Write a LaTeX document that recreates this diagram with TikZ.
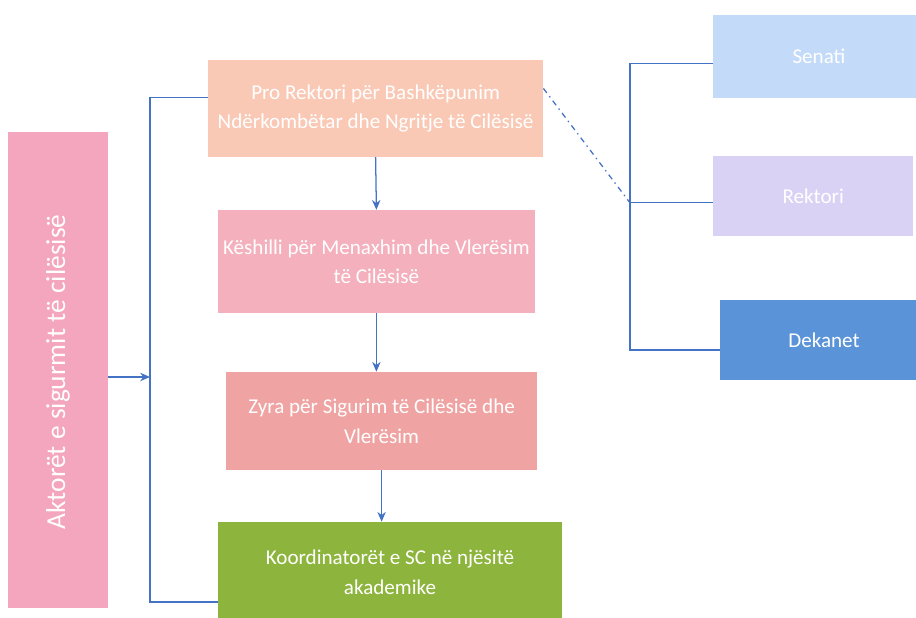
\documentclass[tikz,border=0pt]{standalone}
\usepackage{fontspec}
\setmainfont{Carlito}
\usepackage{tikz}
\usetikzlibrary{arrows.meta}
\definecolor{linkblue}{HTML}{4472C4}
\definecolor{aktorpink}{HTML}{F4A6BE}
\definecolor{peach}{HTML}{FAC9B6}
\definecolor{rosepink}{HTML}{F4B0BC}
\definecolor{salmon}{HTML}{F0A3A3}
\definecolor{olive}{HTML}{8DB43C}
\definecolor{skyblue}{HTML}{C3DAF8}
\definecolor{lavender}{HTML}{DAD2F5}
\definecolor{deanblue}{HTML}{5A93D8}
\tikzset{box/.style={draw=none, text=white, align=center,
  inner sep=2pt, font=\fontsize{15}{21}\selectfont},
  link/.style={draw=linkblue, line width=0.9pt}}

\begin{document}
\begin{tikzpicture}[>={Stealth[length=7pt,width=6pt]}, every node/.style={box}]
  \useasboundingbox (0,0) rectangle (22.9,-15.45);
  \begin{scope}
  \clip (0,0) rectangle (22.9,-15.45);
  \node[fill=aktorpink, minimum width=2.5cm, minimum height=11.875cm]
    (aktor) at (1.45,-9.25) {};
  \node[rotate=90, font=\fontsize{19.5}{24}\selectfont] (aktortxt)
    at (1.45,-9.3) {Aktorët e sigurmit të cilësisë};
  \node[fill=peach, minimum width=8.375cm, minimum height=2.425cm]
    (prorek) at (9.39,-2.71) {Pro Rektori për Bashkëpunim\\Ndërkombëtar dhe Ngritje të Cilësisë};
  \node[fill=rosepink, minimum width=7.925cm, minimum height=2.575cm]
    (keshilli) at (9.41,-6.54) {Këshilli për Menaxhim dhe Vlerësim\\të Cilësisë};
  \node[fill=salmon, minimum width=7.775cm, minimum height=2.45cm]
    (zyra) at (9.54,-10.525) {Zyra për Sigurim të Cilësisë dhe\\Vlerësim};
  \node[fill=olive, minimum width=8.6cm, minimum height=2.5cm]
    (koord) at (9.75,-14.3) {Koordinatorët e SC në njësitë\\akademike};
  \node[fill=skyblue, minimum width=5.3cm, minimum height=2.075cm]
    (senati) at (20.475,-1.41) {Senati};
  \node[fill=lavender, minimum width=5cm, minimum height=1.975cm]
    (rektori) at (20.33,-4.9) {Rektori};
  \node[fill=deanblue, minimum width=5.2cm, minimum height=2cm]
    (dekanet) at (20.6,-8.5) {Dekanet};
  \end{scope}
  % left bracket
  \coordinate (join) at (3.75,-9.425);
  \draw[link, ->] (aktor.east |- join) -- (join);
  \draw[link] ([yshift=0.28cm]prorek.west) -| (join)
    |- ([yshift=-0.75cm]koord.west);
  % chain
  \draw[link, ->] (prorek.south) -- (keshilli.north);
  \draw[link, ->] (keshilli.south) -- (keshilli.south |- zyra.north);
  \draw[link, ->] (zyra.south) -- (zyra.south |- koord.north);
  % right bracket
  \coordinate (rjoin) at (15.75,-5.07);
  \draw[link] ([yshift=-0.17cm]senati.west) -| (rjoin)
    |- ([yshift=-0.25cm]dekanet.west);
  \draw[link] (rjoin) -- (rjoin -| rektori.west);
  \draw[link, dash pattern=on 4pt off 3pt on 1pt off 3pt]
    ([yshift=0.5cm]prorek.east) -- (rjoin);
\end{tikzpicture}
\end{document}
